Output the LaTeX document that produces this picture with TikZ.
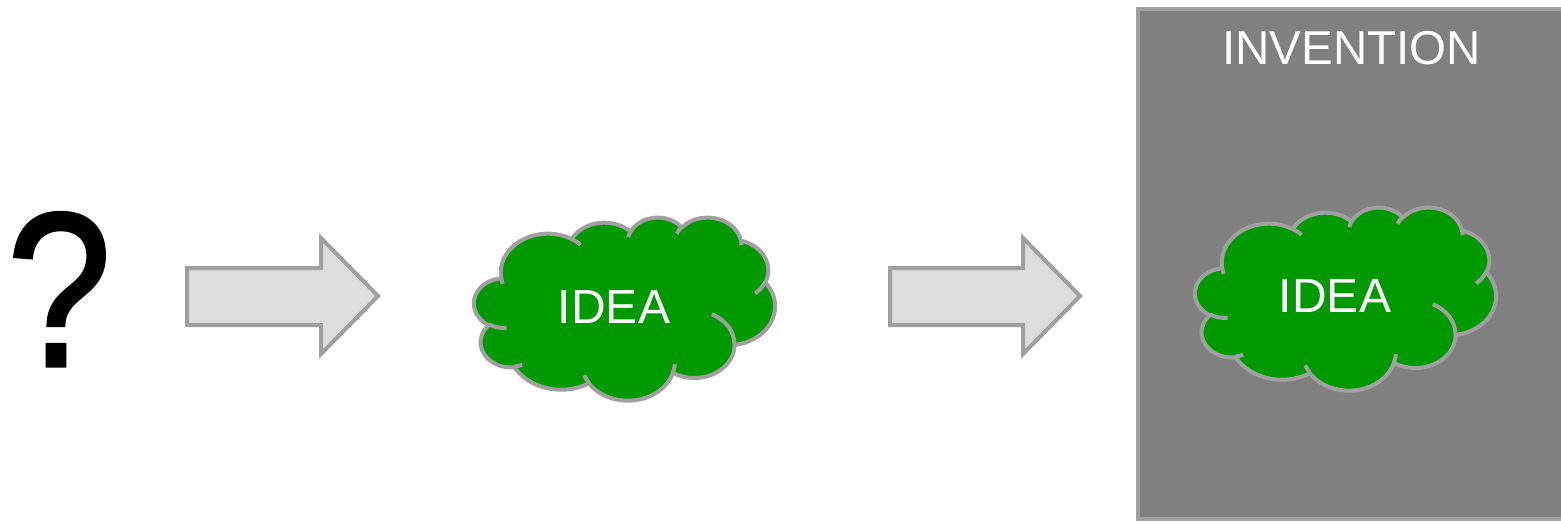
\documentclass[tikz,border=0pt]{standalone}
\usepackage{fontspec}
\setmainfont{Liberation Sans}
\newfontfamily\qfont{Liberation Sans}[FakeBold=1.5]
\definecolor{edgegray}{HTML}{A0A0A0}
\definecolor{ideagreen}{HTML}{009900}
\definecolor{arrowfill}{HTML}{DDDDDD}
\definecolor{boxgray}{HTML}{808080}
% arc parameters of an OOXML-style arcTo (visual angles -> parametric)
\newcommand\ooarcset[4]{%
  \pgfmathsetmacro\ooSa{atan2((#1)*sin(#3),(#2)*cos(#3))}%
  \pgfmathsetmacro\ooEb{atan2((#1)*sin((#3)+(#4)),(#2)*cos((#3)+(#4)))}%
  \pgfmathsetmacro\ooDa{mod(\ooEb-\ooSa+720,360)}%
  \global\let\ooSa\ooSa\global\let\ooDa\ooDa}
\newcommand\ooarc[4]{\pgfextra{\ooarcset{#1}{#2}{#3}{#4}} arc[x radius=#1, y radius=#2, start angle=\ooSa, delta angle=\ooDa]}
\newcommand\ideacloud[2]{%
  \begin{scope}[shift={#1},xscale=301/432,yscale=183/432]
    \draw[cloudline,fill=ideagreen] (39.00,143.70)
      \ooarc{67.53}{91.90}{-190.4875}{123.7805}
      \ooarc{53.33}{72.67}{-144.1024}{89.9452}
      \ooarc{43.65}{59.45}{-145.8079}{99.7230}
      \ooarc{48.57}{65.95}{-130.9861}{117.2417}
      \ooarc{53.33}{72.73}{-78.7089}{109.0269}
      \ooarc{67.75}{92.20}{-46.2673}{130.2690}
      \ooarc{57.85}{78.67}{0.6250}{114.0333}
      \ooarc{67.52}{92.15}{22.4516}{115.1726}
      \ooarc{77.20}{105.43}{66.2426}{75.7110}
      \ooarc{43.60}{59.18}{-274.9421}{146.7356}
      \ooarc{43.45}{59.45}{-246.8285}{152.5189}
      -- cycle;
    \draw[cloudline] (46.93,261.77) \ooarc{43.45}{59.45}{86.7420}{26.4295};
    \draw[cloudline] (69.28,348.99) \ooarc{43.60}{59.18}{73.6105}{11.4475};
    \draw[cloudline] (164.78,390.90) \ooarc{67.52}{92.15}{137.6242}{14.0811};
    \draw[cloudline] (288.27,347.51) \ooarc{67.52}{92.15}{6.4533}{15.9984};
    \draw[cloudline] (341.29,229.54) \ooarc{57.85}{78.67}{-70.2924}{70.9174};
    \draw[cloudline] (417.98,153.54) \ooarc{53.33}{72.73}{30.3180}{27.7515};
    \draw[cloudline] (383.24,54.26) \ooarc{48.57}{65.95}{-13.7443}{14.8589};
    \draw[cloudline] (290.78,39.52) \ooarc{48.57}{65.95}{-149.1815}{18.1954};
    \draw[cloudline] (221.41,47.20) \ooarc{43.65}{59.45}{-163.4943}{17.6864};
    \draw[cloudline] (140.00,51.92) \ooarc{67.53}{91.90}{-66.7070}{12.3194};
    \draw[cloudline] (41.27,157.89) \ooarc{67.53}{91.90}{157.6544}{11.8582};
    \coordinate (#2) at (216,216);
  \end{scope}}
\begin{document}
\begin{tikzpicture}[x=1pt,y=-1pt,
  fatarrow/.style={draw=edgegray,fill=arrowfill,line width=4pt,line join=miter},
  cloudline/.style={draw=edgegray,line width=4pt,line join=round},
  ideatext/.style={text=white,font=\fontsize{48}{48}\selectfont,inner sep=0pt,anchor=base},
  boxstyle/.style={draw=edgegray,fill=boxgray,line width=4pt}]
\useasboundingbox (0,0) rectangle (1561,522);
\node[font=\qfont\fontsize{210}{210}\selectfont,inner sep=0pt,anchor=base] (q) at (59.2,366) {\scalebox{0.896}[1.047]{?}};
\draw[fatarrow] (187,268) -- (321,268) -- (321,238) -- (378,296) -- (321,354) -- (321,325) -- (187,325) -- cycle;
\ideacloud{(474,217)}{c1}
\node[ideatext] (t1) at (614,323) {IDEA};
\draw[fatarrow] (890,268) -- (1023,268) -- (1023,238) -- (1080,296) -- (1023,354) -- (1023,325) -- (890,325) -- cycle;
\draw[boxstyle] (1138,9) rectangle (1575,518.5);
\node[text=white,font=\fontsize{47.5}{47.5}\selectfont,inner sep=0pt,anchor=base] (inv) at (1351.5,64) {INVENTION};
\ideacloud{(1195,207)}{c2}
\node[ideatext] (t2) at (1335,312) {IDEA};
\end{tikzpicture}
\end{document}
